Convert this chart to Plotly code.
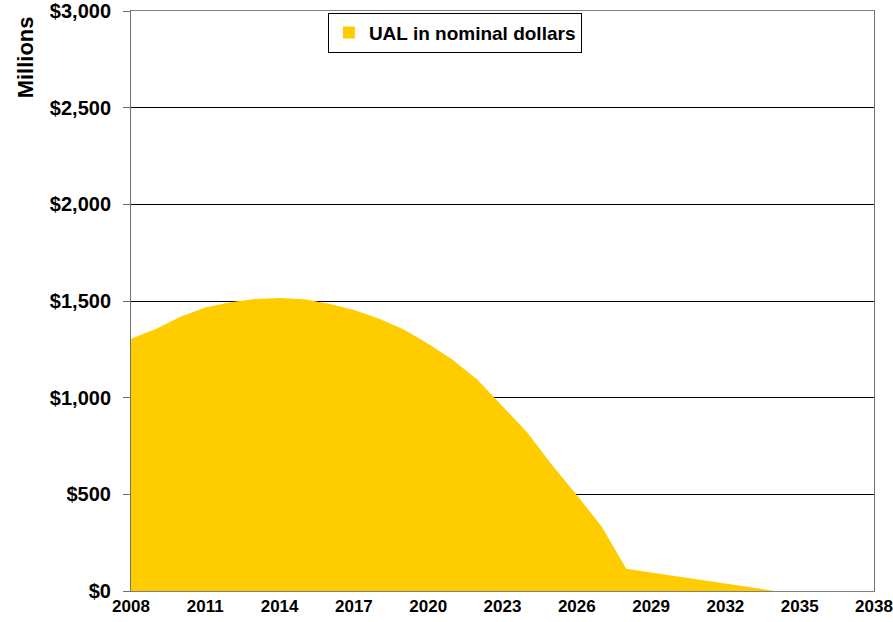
import plotly.graph_objects as go

years = list(range(2008, 2039))
ual_nominal = [1305, 1355, 1419, 1466, 1493, 1510, 1516, 1509, 1486, 1453,
               1410, 1354, 1279, 1195, 1091, 953, 820, 652, 497, 333,
               115, 96, 77, 58, 38, 19, 0, -5, -5, -5, -5]
x_ticks = list(range(2008, 2039, 3))
y_ticks = [0, 500, 1000, 1500, 2000, 2500, 3000]
y_tick_labels = ["$0", "$500", "$1,000", "$1,500", "$2,000", "$2,500", "$3,000"]

fig = go.Figure()
fig.add_trace(go.Scatter(
    x=years, y=ual_nominal, mode="lines", fill="tozeroy",
    fillcolor="#FFCC00", line=dict(width=0, color="#FFCC00"),
    name="UAL in nominal dollars", showlegend=False,
))
# legend entry with a square swatch
fig.add_trace(go.Bar(
    x=[None], y=[None], marker=dict(color="#FFCC00", line=dict(width=0)),
    name="UAL in nominal dollars", showlegend=True,
))

font_family = "Liberation Sans, Arial, sans-serif"
fig.update_layout(
    width=893, height=622,
    margin=dict(l=131, r=19, t=11, b=31),
    plot_bgcolor="white", paper_bgcolor="white",
    showlegend=True,
    legend=dict(
        x=0.265, y=0.997, xanchor="left", yanchor="top",
        bordercolor="black", borderwidth=1, bgcolor="white",
        font=dict(family=font_family, size=19, color="black", weight="bold"),
        itemwidth=30,
    ),
    xaxis=dict(
        range=[2008, 2038], tickvals=x_ticks, ticktext=[str(v) for v in x_ticks],
        showgrid=False, zeroline=False, automargin=False,
        showline=True, linecolor="#808080", linewidth=1, mirror=True,
        ticks="", tickfont=dict(family=font_family, size=17, color="black", weight="bold"),
    ),
    yaxis=dict(
        range=[0, 3000], tickvals=y_ticks, ticktext=y_tick_labels,
        showgrid=True, gridcolor="#000000", gridwidth=1, zeroline=False,
        automargin=False,
        showline=True, linecolor="#707070", linewidth=1, mirror=True,
        ticks="outside", ticklen=7, tickcolor="#707070",
        ticklabelstandoff=8,
        tickfont=dict(family=font_family, size=20, color="black", weight="bold"),
    ),
    annotations=[dict(
        text="Millions", xref="paper", yref="paper", x=-0.1427, y=0.92,
        xanchor="center", yanchor="middle", textangle=-90, showarrow=False,
        font=dict(family=font_family, size=22, color="black", weight="bold"),
    )],
)

fig.write_html(
    "out.html",
    config={"displayModeBar": False},
    post_script="document.body.style.margin='0';document.body.style.overflow='hidden';",
)
